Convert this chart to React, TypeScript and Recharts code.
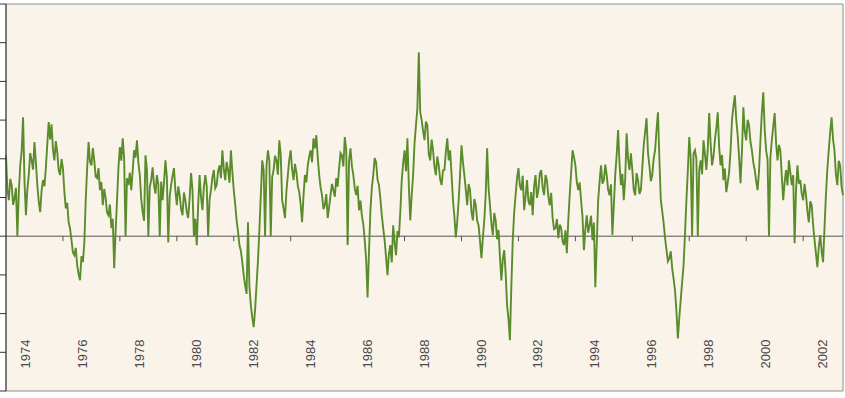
import {
  ComposedChart,
  Line,
  Scatter,
  XAxis,
  YAxis,
  CartesianGrid,
  ReferenceLine,
  ReferenceArea,
} from 'recharts';

// series every 0.05 year from 1974.0
const START_YEAR = 1974;
const STEP = 0.05;

const values1974to1979 = [
  20.9, 12.0, 9.3, 14.8, 13.2, 8.1, 9.8, 12.5, 0, 11.4,
  18.3, 22.0, 30.7, 14.0, 5.4, 12.1, 15.8, 21.5, 19.6, 17.2,
  24.3, 19.0, 13.2, 9.0, 6.2, 11.8, 14.5, 12.9, 17.6, 23.8,
  29.5, 25.0, 28.9, 22.4, 19.6, 24.6, 21.7, 17.0, 15.8, 19.9,
  17.6, 11.5, 7.2, 8.6, 3.6, 2.0, -1.0, -4.2, -4.9, -3.0,
  -7.5, -9.8, -11.4, -5.2, -6.7, -2.0, 9.3, 17.5, 24.3, 19.2,
  18.3, 22.8, 19.6, 15.4, 15.0, 17.6, 11.9, 14.0, 8.0, 12.2,
  9.8, 6.1, 5.4, 8.2, 2.1, 4.5, -8.3, 1.2, 9.3, 17.8,
  23.0, 19.5, 25.3, 20.1, 0, 15.0, 13.2, 16.4, 11.9, 17.0,
  22.2, 20.3, 24.8, 19.0, 15.8, 9.6, 6.2, 4.0, 20.9, 17.2,
  0, 12.7, 14.5, 17.8, 13.2, 11.0, 15.8, 13.4, 0, 14.1,
  9.3, 13.8, 19.6, 15.2, -1.6, 10.2, 13.2, 15.6, 17.6, 11.8,
];

const values1980to1985 = [
  8.0, 12.9, 10.6, 7.0, 5.4, 11.3, 9.3, 6.2, 4.7, 9.8,
  16.3, 12.0, 0, 4.5, -2.3, 8.0, 15.8, 10.1, 6.7, 12.6,
  15.8, 13.0, 0, 9.4, 11.9, 15.2, 17.1, 12.4, 13.2, 16.9,
  18.3, 15.0, 22.2, 17.4, 14.5, 19.2, 17.1, 13.8, 22.2, 16.6,
  11.9, 8.3, 4.1, 1.2, -2.3, -3.8, -6.7, -10.2, -12.7, -14.9,
  3.6, -13.0, -17.8, -21.0, -23.5, -18.9, -12.7, -6.4, 1.6, 10.5,
  19.6, 17.0, 0, 18.2, 22.2, 19.5, 0, 15.3, 17.1, 20.8,
  19.6, 15.9, 24.8, 21.0, 9.3, 7.2, 4.7, 11.6, 15.8, 19.8,
  22.2, 17.3, 14.5, 18.7, 16.5, 13.0, 11.4, 8.2, 3.6, 10.4,
  15.8, 13.9, 18.3, 20.6, 22.2, 19.1, 25.3, 22.7, 26.1, 20.4,
  15.8, 12.6, 10.6, 7.0, 8.0, 10.9, 4.7, 7.5, 10.6, 13.5,
  11.9, 10.2, 15.0, 12.8, 17.6, 21.5, 20.9, 18.0, 25.6, 22.4,
];

const values1986to1991 = [
  -2.3, 19.5, 22.7, 18.1, 15.8, 12.4, 10.6, 13.0, 6.7, 9.2,
  5.4, 3.1, -1.0, -6.0, -15.8, -4.0, 6.7, 12.5, 15.8, 20.2,
  19.1, 14.6, 13.2, 9.8, 5.4, 2.0, -1.0, -5.5, -10.1, -4.6,
  -2.3, -6.8, 2.8, -1.5, -4.9, 1.3, -0.3, 6.2, 14.5, 18.9,
  22.2, 16.8, 25.3, 13.0, 4.1, 10.5, 15.8, 24.0, 28.7, 33.0,
  47.5, 32.0, 30.0, 27.2, 24.8, 29.6, 28.7, 21.3, 19.6, 25.0,
  22.2, 17.9, 15.8, 20.6, 18.3, 14.7, 13.2, 17.0, 17.1, 21.8,
  25.3, 19.6, 22.2, 16.0, 9.3, 5.1, -0.3, 3.8, 9.3, 16.0,
  23.5, 19.2, 15.8, 12.0, 8.0, 13.5, 11.9, 6.3, 4.1, 9.6,
  8.0, 4.0, 2.8, -1.2, -5.7, -0.4, 4.1, 10.8, 22.7, 12.5,
  8.0, 3.2, 0.3, 6.0, 4.1, -0.8, 1.6, -5.4, -11.4, -6.0,
  -3.6, -9.5, -17.8, -21.4, -26.9, -13.0, -1.0, 6.2, 10.6, 15.0,
];

const values1992to1997 = [
  17.6, 13.1, 11.9, 15.6, 6.7, 10.2, 14.5, 9.1, 8.0, 11.4,
  5.4, 12.8, 15.8, 9.9, 11.9, 16.2, 17.1, 12.6, 10.6, 15.8,
  14.5, 10.3, 8.0, 11.2, 4.7, 1.8, 2.1, 4.4, -0.5, 3.0,
  2.1, -1.4, -2.3, 1.5, -4.4, 4.0, 10.6, 16.4, 22.2, 20.5,
  18.3, 14.0, 11.9, 13.9, 9.3, 5.0, -3.6, 1.8, 5.4, 0.9,
  2.8, 5.3, -1.0, 3.5, -13.2, -2.0, 9.3, 14.1, 18.3, 13.6,
  14.5, 18.5, 15.8, 12.0, 10.6, 13.4, 0.3, 8.0, 15.8, 21.0,
  27.4, 18.8, 13.2, 16.1, 9.3, 14.9, 26.6, 20.0, 17.1, 21.4,
  17.1, 12.0, 10.6, 16.3, 14.5, 10.9, 11.9, 17.6, 23.5, 27.0,
  30.5, 21.5, 18.3, 14.2, 15.8, 20.1, 22.2, 27.5, 32.0, 20.0,
  9.3, 6.5, 3.4, -0.5, -3.6, -6.5, -5.7, -3.9, -8.3, -11.0,
  -14.0, -19.5, -26.4, -21.0, -16.5, -11.8, -7.5, 0.5, 9.3, 17.0,
];

const values1998to2003 = [
  25.6, 20.0, 0, 21.4, 22.2, 20.0, 0, 17.0, 19.6, 16.0,
  24.8, 21.2, 17.1, 22.5, 31.8, 24.0, 18.3, 20.6, 24.8, 27.9,
  32.0, 23.0, 18.3, 21.0, 14.5, 17.5, 11.4, 13.8, 16.5, 22.0,
  30.0, 33.5, 36.4, 30.2, 26.1, 20.5, 13.7, 21.9, 33.3, 27.0,
  24.8, 30.1, 28.7, 24.4, 22.2, 19.0, 17.1, 14.2, 11.9, 16.8,
  24.8, 32.0, 37.2, 27.5, 22.2, 19.8, 0, 20.4, 24.8, 28.4,
  31.8, 24.0, 19.6, 23.6, 22.2, 15.5, 9.3, 14.0, 17.1, 13.1,
  19.6, 16.4, 13.2, 15.8, -1.8, 12.0, 18.3, 13.6, 14.5, 11.0,
  9.3, 13.5, 10.6, 6.4, 3.6, 9.0, 8.0, 3.0, -1.0, -4.5,
  -8.0, -2.6, 0.3, -3.9, -6.7, 2.0, 10.6, 17.3, 22.2, 27.0,
  30.7, 25.1, 22.2, 16.0, 13.2, 19.5, 18.3, 12.8, 10.6,
];

const yearTicks = [1974, 1976, 1978, 1980, 1982, 1984, 1986, 1988, 1990, 1992, 1994, 1996, 1998, 2000, 2002];
const yTicks = [-40, -30, -20, -10, 0, 10, 20, 30, 40, 50, 60];

const allValues = [
  ...values1974to1979,
  ...values1980to1985,
  ...values1986to1991,
  ...values1992to1997,
  ...values1998to2003,
];

const data = allValues.map((v, i) => ({
  year: Math.round((START_YEAR + i * STEP) * 100) / 100,
  value: v,
}));

const X_MAX = data[data.length - 1].year;

const tickMarks = yearTicks.filter((t) => t > START_YEAR).map((t) => ({ year: t, value: 0 }));

function YearLabel({ x = 0, y = 0, payload }: { x?: number; y?: number; payload?: { value: number } }) {
  const tx = x + 24;
  const ty = y - 45;
  return (
    <text
      x={tx}
      y={ty}
      transform={`rotate(-90 ${tx} ${ty})`}
      textAnchor="middle"
      fontSize={13}
      fill="#4a4a4a"
      fontFamily="'Liberation Sans', Arial, sans-serif"
    >
      {payload?.value}
    </text>
  );
}

function TickMark({ cx = 0, cy = 0 }: { cx?: number; cy?: number }) {
  return <line x1={cx} x2={cx} y1={cy} y2={cy + 5} stroke="#555" strokeWidth={1} />;
}

export default function App() {
  return (
    <div style={{ position: 'absolute', left: 0, top: 0, width: 845, height: 398, background: '#fff' }}>
      <ComposedChart width={845} height={398} data={data} margin={{ top: 4, right: 2, left: 0, bottom: 0 }}>
        <CartesianGrid horizontal={false} vertical={false} fill="#FAF3EA" />
        <ReferenceArea x1={START_YEAR} x2={X_MAX} y1={-40} y2={60} fill="none" stroke="#8c8c8c" strokeWidth={1} />
        <XAxis
          dataKey="year"
          type="number"
          domain={[START_YEAR, X_MAX]}
          ticks={yearTicks}
          interval={0}
          tick={<YearLabel />}
          tickLine={false}
          axisLine={false}
          height={7}
        />
        <YAxis
          type="number"
          domain={[-40, 60]}
          ticks={yTicks}
          width={6}
          tickSize={6}
          tickFormatter={() => ''}
          axisLine={{ stroke: '#333' }}
          tickLine={{ stroke: '#333' }}
        />
        <ReferenceLine y={0} stroke="#555" strokeWidth={1} />
        <Scatter data={tickMarks} dataKey="value" shape={<TickMark />} isAnimationActive={false} />
        <Line
          dataKey="value"
          type="linear"
          stroke="#5B8C2C"
          strokeWidth={1.9}
          dot={false}
          activeDot={false}
          isAnimationActive={false}
        />
      </ComposedChart>
    </div>
  );
}
